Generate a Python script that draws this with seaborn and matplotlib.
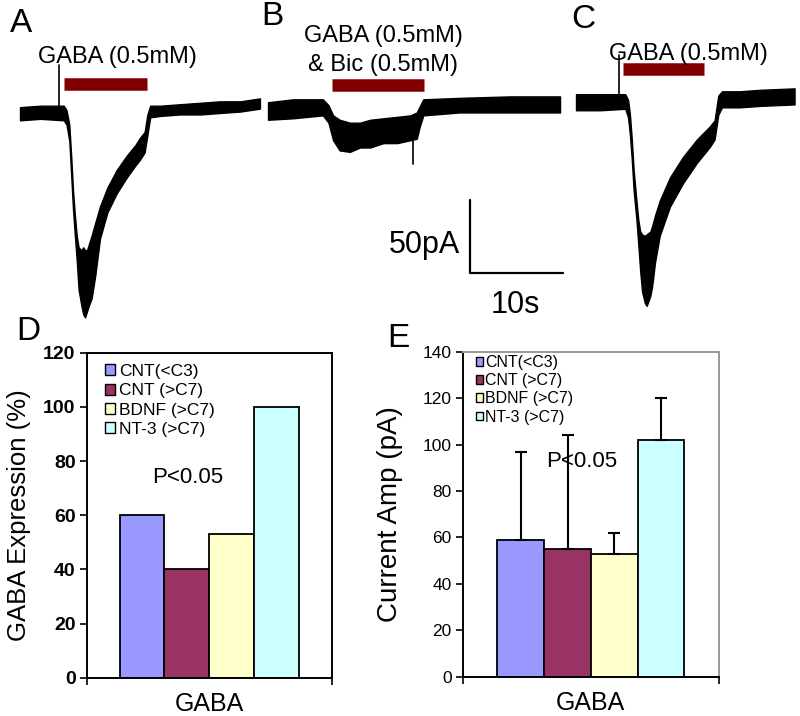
import numpy as np
import pandas as pd
import matplotlib
matplotlib.use("Agg")
import matplotlib.pyplot as plt
from matplotlib.patches import Patch
import seaborn as sns

sns.set_theme(style="white")
plt.rcParams['font.family'] = ['Liberation Sans', 'DejaVu Sans']
plt.rcParams.update({'text.color': 'black', 'axes.labelcolor': 'black',
                     'xtick.color': 'black', 'ytick.color': 'black'})

# ---- current traces: time (s), upper / lower edge of the noisy trace (pA) ----
a_t = [0.0, 2.2, 4.7, 5.0, 5.3, 5.5, 5.7, 5.9, 6.1, 6.3, 6.6, 6.8, 7.0, 7.2, 7.4, 7.7,
       8.1, 8.6, 9.4, 10.4, 11.5, 12.4, 12.9, 13.4, 13.7, 14.0, 15.1, 17.2, 19.4, 21.5, 23.7, 25.8]
a_hi = [4, 5, 5, 2, -8, -29, -53, -70, -84, -92, -94, -92, -94, -94, -90, -84,
        -75, -64, -51, -39, -29, -22, -17, -13, -1, 5, 5, 6, 7, 8, 8, 10]
a_lo = [-5, -4, -5, -8, -19, -42, -66, -84, -101, -121, -132, -138, -140, -136, -132, -127,
        -111, -86, -68, -55, -44, -36, -32, -27, -15, -3, -2, -1, -1, 0, 1, 3]

b_t = [0.0, 2.7, 5.9, 6.5, 7.0, 7.7, 8.8, 9.9, 11.0, 12.4, 13.9, 15.3, 16.0, 16.3, 16.7, 20.6, 26.0, 31.4]
b_hi = [6, 8, 8, 4, -3, -6, -8, -8, -6, -5, -4, -3, -1, 3, 8, 9, 10, 10]
b_lo = [-6, -5, -3, -8, -20, -27, -28, -25, -25, -22, -22, -20, -19, -11, -3, -1, -1, -1]

c_t = [0.0, 2.6, 5.3, 5.6, 5.8, 6.0, 6.2, 6.5, 6.7, 6.9, 7.1, 7.4, 7.6, 8.0, 8.2, 8.5,
       9.0, 10.1, 11.5, 13.0, 14.4, 14.9, 15.3, 15.7, 17.6, 19.8, 23.5]
c_hi = [5, 5, 5, 1, -9, -26, -47, -68, -81, -89, -91, -92, -91, -89, -85, -78,
        -68, -52, -38, -26, -17, -13, 4, 7, 7, 8, 9]
c_lo = [-6, -6, -5, -11, -23, -40, -61, -81, -98, -116, -130, -138, -140, -133, -126, -110,
        -92, -72, -56, -42, -31, -26, -9, -4, -4, -3, -2]

# application windows (s) and artifacts (time s, from pA, to pA)
a_drug = (4.7, 13.7)
b_drug = (6.9, 16.8)
c_drug = (5.1, 13.8)
a_art = (4.2, 0, 33)
b_art = (15.6, -20, -36)
c_art = (4.6, 0, 32)

# ---- bar charts ----
groups = ["CNT(<C3)", "CNT (>C7)", "BDNF (>C7)", "NT-3 (>C7)"]
colors = ["#9999FF", "#993366", "#FFFFCC", "#CCFFFF"]
expr = [60, 40, 53, 100]
amp = [59, 55, 53, 102]
amp_err = [38, 49, 9, 18]

W, H = 800, 716
PX_S = 9.3     # px per second (10 s bar)
PX_PA = 1.46   # px per pA (50 pA bar)
TOP_H = 320


def fx(x):
    return x / W


def fy(y):
    return 1 - y / H


fig = plt.figure(figsize=(W / 100, H / 100), dpi=100)

# ---------------- top row: traces ----------------
ax0 = fig.add_axes([0, fy(TOP_H), 1, TOP_H / H])
ax0.set_xlim(0, W / PX_S)
ax0.set_ylim(-TOP_H / PX_PA, 0)
ax0.axis('off')

traces = [
    (a_t, a_hi, a_lo, a_drug, a_art, 20, 113, 84),
    (b_t, b_hi, b_lo, b_drug, b_art, 268, 111, 84.5),
    (c_t, c_hi, c_lo, c_drug, c_art, 576, 101.5, 69),
]
for t, hi, lo, drug, art, x0, y0, bar_y in traces:
    t0 = x0 / PX_S
    base = -y0 / PX_PA
    tt = t0 + np.array(t)
    ax0.fill_between(tt, base + np.array(lo), base + np.array(hi),
                     color='black', lw=1.0, edgecolor='black')
    ax0.plot([t0 + art[0]] * 2, [base + art[1], base + art[2]], color='black', lw=1.2)
    ax0.plot([t0 + drug[0], t0 + drug[1]], [-bar_y / PX_PA] * 2,
             color='#800000', lw=9, solid_capstyle='butt')

# scale bar
sx, sy = 470 / PX_S, -273 / PX_PA
ax0.plot([sx, sx, sx + 10], [sy + 50, sy, sy], color='black', lw=1.6)

fig.text(fx(460), fy(253), "50pA", fontsize=22, ha='right', va='baseline')
fig.text(fx(515), fy(313), "10s", fontsize=22, ha='center', va='baseline')

for s, x, y in [("A", 21, 32), ("B", 272, 25), ("C", 583, 28), ("D", 28, 340), ("E", 398, 347)]:
    fig.text(fx(x), fy(y), s, fontsize=24, ha='center', va='baseline')

fig.text(fx(117), fy(63), "GABA (0.5mM)", fontsize=17, ha='center', va='baseline')
fig.text(fx(383), fy(42), "GABA (0.5mM)", fontsize=17, ha='center', va='baseline')
fig.text(fx(383), fy(71), "& Bic (0.5mM)", fontsize=17, ha='center', va='baseline')
fig.text(fx(688), fy(60), "GABA (0.5mM)", fontsize=17, ha='center', va='baseline')

# ---------------- bottom row: bar charts ----------------
df = pd.DataFrame({"cond": ["GABA"] * 4, "group": groups, "expr": expr, "amp": amp})

axD = fig.add_axes([fx(86.7), fy(677.7), (331.7 - 86.7) / W, 325 / H])
axE = fig.add_axes([fx(462.7), fy(676.7), (719 - 462.7) / W, 325 / H])

sns.barplot(data=df, x="cond", y="expr", hue="group", hue_order=groups, palette=colors,
            saturation=1, edgecolor="black", linewidth=1.3, errorbar=None, legend=False, ax=axD)
sns.barplot(data=df, x="cond", y="amp", hue="group", hue_order=groups, palette=colors,
            saturation=1, edgecolor="black", linewidth=1.3, errorbar=None, legend=False, ax=axE)

xc = [c[0].get_x() + c[0].get_width() / 2 for c in axE.containers]
axE.errorbar(xc, amp, yerr=[np.zeros(len(amp)), amp_err], fmt='none', ecolor='black',
             elinewidth=1.5, capsize=4, capthick=1.5, zorder=1)

for ax, half, top, step in [(axD, 0.5475, 120, 20), (axE, 0.549, 140, 20)]:
    ax.set_xlim(-half, half)
    ax.set_ylim(0, top)
    ax.set_yticks(range(0, top + 1, step))
    ax.set_xticks([0], ["GABA"])
    ax.set_xticks([-half, half], minor=True)
    ax.tick_params(axis='x', which='major', length=0, pad=10, labelsize=18)
    ax.tick_params(axis='x', which='minor', length=5, width=1.2, direction='out', bottom=True)
    ax.tick_params(axis='y', length=5, width=1.2, direction='out', left=True, pad=3)
    ax.set_xlabel("")
    for sp in ax.spines.values():
        sp.set_color('black')
        sp.set_linewidth(1.4)

axD.tick_params(axis='y', labelsize=14)
for lab in axD.get_yticklabels():
    lab.set_fontweight('bold')
axE.tick_params(axis='y', labelsize=12.5)
axE.spines['top'].set_color('#999999')
axE.spines['right'].set_color('#999999')

axD.set_ylabel("GABA Expression (%)", fontsize=18.5)
axD.yaxis.set_label_coords(-0.227, 0.5)
axE.set_ylabel("Current Amp (pA)", fontsize=20)
axE.yaxis.set_label_coords(-0.233, 0.5)

handles = [Patch(facecolor=c, edgecolor='black', lw=1.0) for c in colors]
axD.legend(handles, groups, loc='upper left', bbox_to_anchor=(0.075, 0.965), frameon=False,
           fontsize=12.5, handlelength=0.6, handleheight=0.6, handletextpad=0.2,
           labelspacing=0.25, borderpad=0, borderaxespad=0)
axE.legend(handles, groups, loc='upper left', bbox_to_anchor=(0.05, 0.99), frameon=False,
           fontsize=11.5, handlelength=0.45, handleheight=0.45, handletextpad=0.15,
           labelspacing=0.2, borderpad=0, borderaxespad=0)

axD.text(0.413, 0.6, "P<0.05", transform=axD.transAxes, fontsize=16, ha='center', va='baseline')
axE.text(0.465, 0.645, "P<0.05", transform=axE.transAxes, fontsize=16, ha='center', va='baseline')

fig.savefig("out.png", dpi=100)
